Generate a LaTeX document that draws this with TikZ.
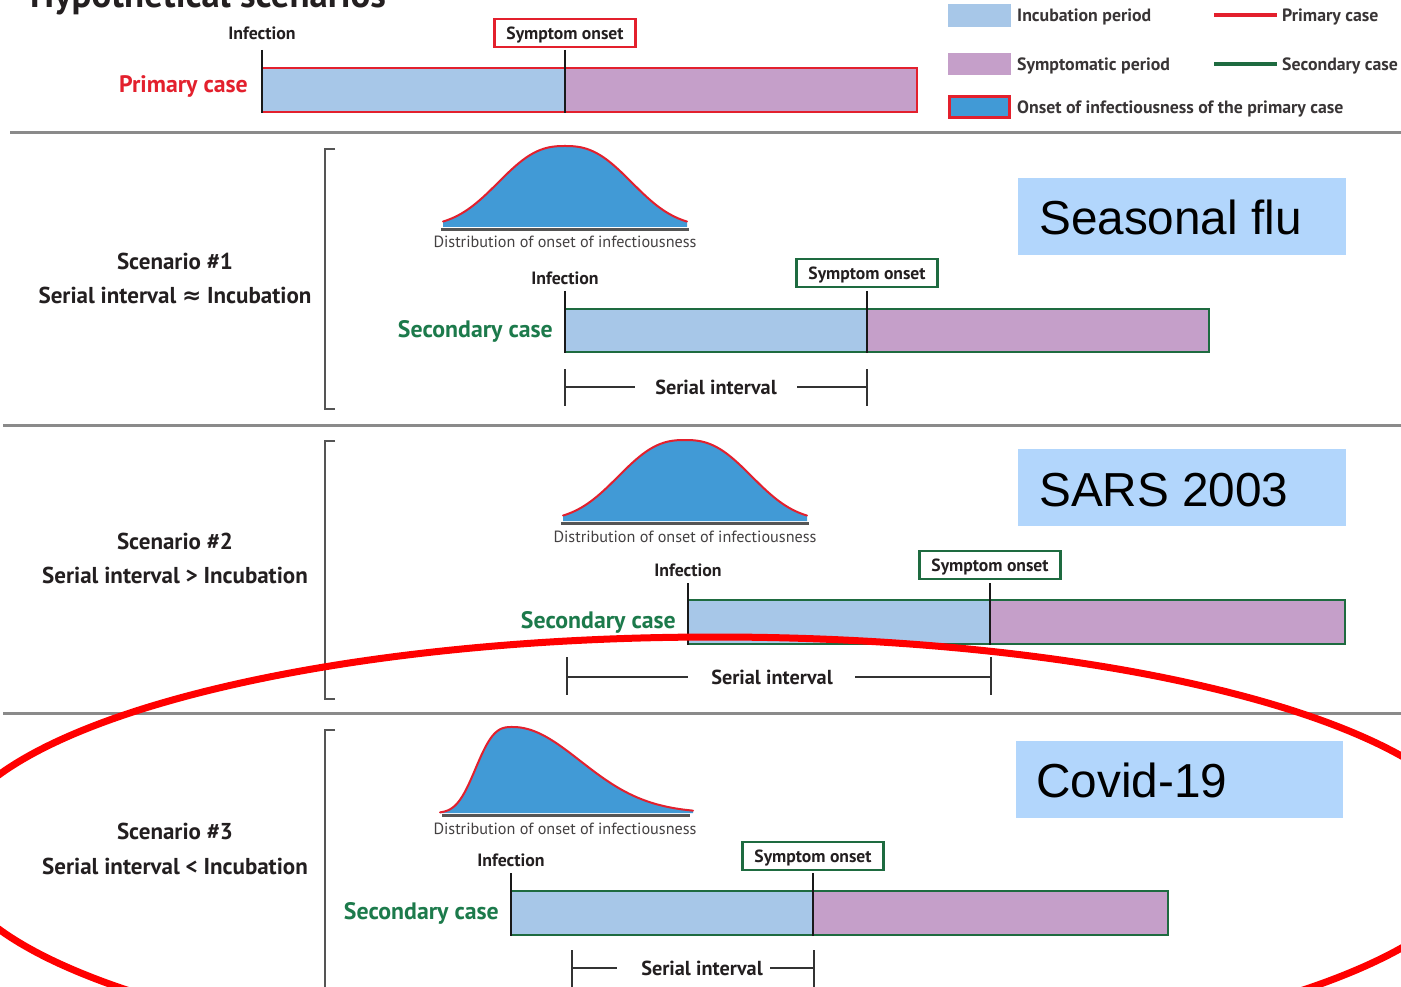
\documentclass[tikz,border=0pt]{standalone}
\usepackage{fontspec}
\setmainfont{PT Sans}
\newfontfamily\arialf{Liberation Sans}
\newfontfamily\djvf{DejaVu Sans}
\definecolor{incub}{HTML}{A7C7E8}
\definecolor{sympt}{HTML}{C59FC9}
\definecolor{infb}{HTML}{419AD6}
\definecolor{pred}{HTML}{E3202D}
\definecolor{sgreen}{HTML}{1E6B40}
\definecolor{sgtext}{HTML}{1C7A4B}
\definecolor{txt}{HTML}{231F20}
\definecolor{lbl}{HTML}{B2D6FC}
\definecolor{sep}{HTML}{8A8A8A}
\definecolor{brk}{HTML}{555555}
\definecolor{ellred}{HTML}{FF0000}
\newcommand{\symbell}[3]{%
  \fill[infb] ({#1-122},#2) -- plot[domain=-122:122,samples=81] ({#1+\x},{#2-#3*exp(-pow(abs(\x)/82,2.5))}) -- ({#1+122},#2) -- cycle;
  \draw[pred,line width=2,line cap=round] plot[domain=-122:122,samples=81] ({#1+\x},{#2-#3*exp(-pow(abs(\x)/82,2.5))});
}
\newcommand{\skewbell}[3]{%
  \fill[infb] ({#1-73},#2) -- plot[domain=-73:0,samples=40] ({#1+\x},{#2-#3*exp(-pow(abs(\x)/43,3))}) -- plot[domain=0:180,samples=60] ({#1+\x},{#2-#3*exp(-(\x/95)^2)}) -- ({#1+180},#2) -- cycle;
  \draw[pred,line width=2,line cap=round] plot[domain=-73:0,samples=40] ({#1+\x},{#2-#3*exp(-pow(abs(\x)/43,3))}) -- plot[domain=0:180,samples=60] ({#1+\x},{#2-#3*exp(-(\x/95)^2)});
}
\tikzset{
  every node/.style={inner sep=0pt, text depth=0pt, text=txt},
  ticklab/.style={font=\fontsize{17.8}{20}\selectfont\bfseries, text height=12.5pt},
  onsetbox/.style={draw=#1, line width=2.5, minimum width=141, minimum height=28, font=\fontsize{17.6}{20}\selectfont\bfseries, text height=12.3pt},
  caselab/.style={font=\fontsize{23.8}{26}\selectfont\bfseries, anchor=east, text height=16.7pt},
  scen/.style={font=\fontsize{23}{26}\selectfont\bfseries, text height=16.1pt},
  distlab/.style={font=\fontsize{16.2}{18}\selectfont, text=txt!85, text height=11.3pt},
  serial/.style={font=\fontsize{20.3}{23}\selectfont\bfseries, text height=14.2pt},
  legtxt/.style={font=\fontsize{17.8}{20}\selectfont\bfseries, anchor=west, text=txt!90, text height=12.5pt},
  bigl/.style={font=\arialf\fontsize{47.7}{52}\selectfont, anchor=base west, text=black},
  tickline/.style={line width=2.2, draw=black!90},
  thinline/.style={line width=1.8, draw=black!80},
  baseln/.style={line width=2.2, draw=brk},
  sepline/.style={line width=3, draw=sep},
  bracket/.style={line width=2, draw=brk},
  barborder/.style={draw=#1, line width=2.6},
}
\begin{document}
\begin{tikzpicture}[x=1pt,y=-1pt]
\useasboundingbox (0,0) rectangle (1401,987);
\clip (0,0) rectangle (1401,987);
\fill[white] (0,0) rectangle (1401,987);

% title
\node[font=\fontsize{36.8}{40}\selectfont\bfseries, anchor=base west, text=txt] (title) at (30,8) {Hypothetical scenarios};

% legend
\fill[incub] (948,4) rectangle (1011,27);
\node[legtxt] (lg1) at (1017,15) {Incubation period};
\fill[sympt] (948,53) rectangle (1011,75);
\node[legtxt] (lg2) at (1017,64) {Symptomatic period};
\filldraw[fill=infb, draw=pred, line width=3] (949.5,96.5) rectangle (1009.5,117.5);
\node[legtxt] (lg3) at (1017,107) {Onset of infectiousness of the primary case};
\draw[pred, line width=3.5] (1214,15) -- (1277,15);
\node[legtxt] (lg4) at (1282,15) {Primary case};
\draw[sgreen, line width=3.5] (1214,64) -- (1277,64);
\node[legtxt] (lg5) at (1282,64) {Secondary case};

% primary case
\fill[incub] (262,68) rectangle (565,112);
\fill[sympt] (565,68) rectangle (917,112);
\draw[barborder=pred] (262,68) rectangle (917,112);
\node[ticklab] (inf0) at (262,33) {Infection};
\node[onsetbox=pred] (on0) at (565,33) {Symptom onset};
\draw[tickline] (262,50) -- (262,113);
\draw[tickline] (565,50) -- (565,113);
\node[caselab, text=pred] (pc) at (248,84) {Primary case};

% separators
\draw[sepline] (10,133) -- (1401,133);
\draw[sepline] (3,425) -- (1401,425);
\draw[sepline] (3,713) -- (1401,713);

% ---------- Scenario 1
\draw[bracket] (335,149) -- (325,149) -- (325,409) -- (335,409);
\node[scen] (s1a) at (175,261) {Scenario \#1};
\node[scen] (s1b) at (175,295) {Serial interval {\djvf\bfseries ≈} Incubation};
\symbell{565}{227}{81}
\draw[baseln] (441,229.5) -- (689,229.5);
\node[distlab] (d1) at (565,242) {Distribution of onset of infectiousness};
\node[ticklab] (inf1) at (565,278) {Infection};
\node[onsetbox=sgreen] (on1) at (867,273) {Symptom onset};
\fill[incub] (565,309) rectangle (867,352);
\fill[sympt] (867,309) rectangle (1209,352);
\draw[barborder=sgreen] (565,309) rectangle (1209,352);
\draw[tickline] (565,291) -- (565,353);
\draw[tickline] (867,291) -- (867,353);
\node[caselab, text=sgtext] (sc1) at (553,329) {Secondary case};
\node[serial] (si1) at (716,387) {Serial interval};
\draw[thinline] (565,369) -- (565,406);
\draw[thinline] (867,369) -- (867,406);
\draw[thinline] (565,387) -- (635,387);
\draw[thinline] (797,387) -- (867,387);
\fill[lbl] (1018,178) rectangle (1346,255);
\node[bigl] (l1) at (1039,235) {Seasonal flu};

% ---------- Scenario 2
\draw[bracket] (335,441) -- (325,441) -- (325,699) -- (335,699);
\node[scen] (s2a) at (175,541) {Scenario \#2};
\node[scen] (s2b) at (175,575) {Serial interval > Incubation};
\symbell{685}{521}{81}
\draw[baseln] (561,523.5) -- (809,523.5);
\node[distlab] (d2) at (685,537) {Distribution of onset of infectiousness};
\node[ticklab] (inf2) at (688,570) {Infection};
\node[onsetbox=sgreen] (on2) at (990,565) {Symptom onset};
\fill[incub] (688,600) rectangle (990,644);
\fill[sympt] (990,600) rectangle (1345,644);
\draw[barborder=sgreen] (688,600) rectangle (1345,644);
\draw[tickline] (688,583) -- (688,645);
\draw[tickline] (990,583) -- (990,645);
\node[caselab, text=sgtext] (sc2) at (676,620) {Secondary case};
\node[serial] (si2) at (772,677) {Serial interval};
\draw[thinline] (567,657) -- (567,695);
\draw[thinline] (991,657) -- (991,695);
\draw[thinline] (567,677) -- (688,677);
\draw[thinline] (855,677) -- (991,677);
\fill[lbl] (1018,449) rectangle (1346,526);
\node[bigl] (l2) at (1039,506) {SARS 2003};

% ---------- Scenario 3
\draw[bracket] (335,730) -- (325,730) -- (325,995);
\node[scen] (s3a) at (175,831) {Scenario \#3};
\node[scen] (s3b) at (175,866) {Serial interval < Incubation};
\skewbell{513}{813}{86}
\draw[baseln] (442,815.5) -- (690,815.5);
\node[distlab] (d3) at (565,829) {Distribution of onset of infectiousness};
\node[ticklab] (inf3) at (511,860) {Infection};
\node[onsetbox=sgreen] (on3) at (813,856) {Symptom onset};
\fill[incub] (511,891) rectangle (813,935);
\fill[sympt] (813,891) rectangle (1168,935);
\draw[barborder=sgreen] (511,891) rectangle (1168,935);
\draw[tickline] (511,873) -- (511,936);
\draw[tickline] (813,873) -- (813,936);
\node[caselab, text=sgtext] (sc3) at (499,911) {Secondary case};
\node[serial] (si3) at (702,968) {Serial interval};
\draw[thinline] (572,950) -- (572,992);
\draw[thinline] (814,950) -- (814,992);
\draw[thinline] (572,968) -- (617,968);
\draw[thinline] (770,968) -- (814,968);
\fill[lbl] (1016,741) rectangle (1343,818);
\node[bigl] (l3) at (1036,797) {Covid-19};

% red ellipse
\draw[ellred, line width=7] (715,852) ellipse [x radius=767pt, y radius=215pt];
\end{tikzpicture}
\end{document}
